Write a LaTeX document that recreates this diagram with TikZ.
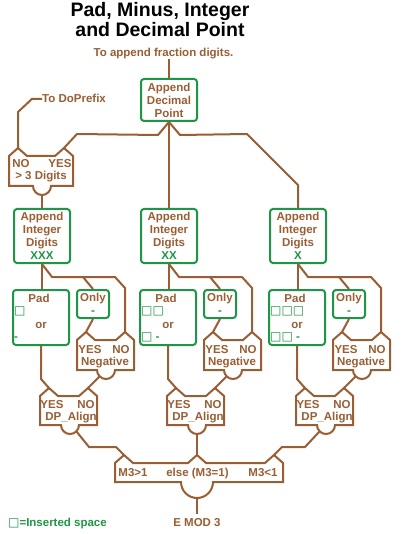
\documentclass[tikz,border=0pt]{standalone}
\usepackage{fontspec}
\setmainfont{Liberation Sans}
\newfontfamily\symfont{DejaVu Sans}
\usetikzlibrary{calc}
\definecolor{brn}{RGB}{153,94,51}
\definecolor{grn}{RGB}{30,150,70}
\newcommand{\txt}{\bfseries\fontsize{11.5}{13}\selectfont}
\newcommand{\sq}{{\symfont\fontsize{12}{13}\selectfont □}}
\newcommand{\decbox}[7]{%
  \draw[dec] (#2,#4) -- ++(9,-8) coordinate (#1-pl) -- ++(9,8) -- ({#3-18},#4) -- ++(9,-8) coordinate (#1-pr) -- (#3,#4) -- (#3,#5) -- ({#6+#7},#5) arc[start angle=0,end angle=180,radius=#7] -- (#2,#5) -- cycle;
  \coordinate (#1-bl) at ($(#6,#5)+(135:#7)$);
  \coordinate (#1-br) at ($(#6,#5)+(45:#7)$);
  \coordinate (#1-b) at ($(#6,#5)+(90:#7)$);
}
\begin{document}
\begin{tikzpicture}[x=1pt,y=-1pt,
  conn/.style={draw=brn,line width=2pt},
  dec/.style={draw=brn,line width=2pt,fill=white},
  gbox/.style={draw=grn,line width=2pt,rounded corners=3pt,fill=white,inner sep=0pt,align=center,text=brn,font=\txt},
  lbl/.style={text=brn,font=\txt,inner sep=0pt,anchor=base},
  ttl/.style={anchor=base,font=\bfseries\fontsize{19.5}{21}\selectfont,inner sep=0pt}]
\useasboundingbox (0,0) rectangle (400,534);
\fill[white] (0,0) rectangle (400,534);

% title
\node[ttl] (t1) at (160,16.5) {Pad, Minus, Integer};
\node[ttl] (t2) at (160,36.5) {and Decimal Point};
\node[lbl] (sub) at (163.5,56.5) {To append fraction digits.};

% top box
\node[gbox,minimum width=56pt,minimum height=42pt] (app) at (169,100) {Append\\Decimal\\Point};
\draw[conn] (app.north) -- (app.north |- sub.south);

% > 3 Digits
\decbox{dig}{9}{73}{156}{186}{42}{9}
\node[lbl] (dig-no) at (21,168) {NO};
\node[lbl] (dig-yes) at (60,168) {YES};
\node[lbl] (dig-t) at (41,180) {> 3 Digits};
\node[lbl,anchor=base west] (prefix) at (42,103) {To DoPrefix};
\draw[conn] (prefix.west) -- ++(-10,0) -- ($(dig-pl)+(0,-36)$) -- (dig-pl);

% columns
\foreach \d/\n/\xs/\pa/\pb in {0/1/XXX/{\sq}/{-}, 127/2/XX/{\sq\sq}/{\sq\ -}, 256/3/X/{\sq\sq\sq}/{\sq\sq\ -}} {
  \node[gbox,minimum width=56pt,minimum height=54pt] (ai\n) at (42+\d,236) {Append\\Integer\\Digits\\\textcolor{grn}{\xs}};
  \node[gbox,minimum width=56pt,minimum height=55pt] (pad\n) at (41+\d,317.5) {};
  \node[lbl] (padt\n) at (39+\d,302) {Pad};
  \node[lbl,anchor=base west,text=grn] (pada\n) at (14+\d,314.5) {\pa};
  \node[lbl] (pador\n) at (41+\d,328) {or};
  \node[lbl,anchor=base west,text=grn] (padb\n) at (14+\d,340) {\pb};
  \node[gbox,minimum width=32pt,minimum height=28pt] (only\n) at (93+\d,304) {Only\\\textcolor{grn}{-}};
  \decbox{neg\n}{77+\d}{134+\d}{340}{370}{106+\d}{9}
  \node[lbl] (negy\n) at (90+\d,353) {YES};
  \node[lbl] (negn\n) at (121+\d,353) {NO};
  \node[lbl] (negt\n) at (105+\d,365) {Negative};
  \decbox{dp\n}{40+\d}{97+\d}{396}{425}{70+\d}{9}
  \node[lbl] (dpy\n) at (52+\d,408) {YES};
  \node[lbl] (dpn\n) at (86+\d,408) {NO};
  \node[lbl] (dpt\n) at (71+\d,420) {DP\_Align};
  \draw[conn] (ai\n.south) -- (ai\n.south |- pad\n.north);
  \draw[conn] (ai\n.south) -- ++(10,13) -- ++(63,0) -- ++(10,11) -- (neg\n-pr);
  \draw[conn] ($(ai\n.south)+(41,13)$) -- (only\n.north);
  \draw[conn] (only\n.south) -- (neg\n-pl);
  \draw[conn] (pad\n.south) -- ++(0,33) -- (dp\n-pl);
  \draw[conn] (neg\n-bl) -- (dp\n-pr);
}

% top connectors
\draw[conn] (app.south) -- ++(-11,13) -- (77,134) -- (dig-pr);
\draw[conn] (app.south) -- (ai2.north);
\draw[conn] (app.south) -- ++(11,13) -- (247,134) -- ($(ai3.north)+(0,-23)$) -- (ai3.north);
\draw[conn] (dig-b) -- (ai1.north);

% M3 box
\draw[dec] (115,463) -- ++(9,-8) coordinate (m3-pl) -- ++(9,8) -- (188,463) -- ++(9,-8) coordinate (m3-pm) -- ++(9,8) -- (265,463) -- ++(9,-8) coordinate (m3-pr) -- (283,463) -- (283,482) -- (213,482) arc[start angle=0,end angle=180,radius=16] -- (115,482) -- cycle;
\coordinate (m3-b) at (197,498);
\node[lbl] (m3a) at (133,476) {M3>1};
\node[lbl] (m3c) at (197.5,476) {else (M3=1)};
\node[lbl] (m3d) at (263,476) {M3<1};

\draw[conn] (dp1-br) -- (89,447) -- (116,447) -- (m3-pl);
\draw[conn] (dp2-b) -- (m3-pm);
\draw[conn] (dp3-bl) -- (305,447) -- (282,447) -- (m3-pr);

\node[lbl] (emod) at (197,526.5) {E MOD 3};
\draw[conn,shorten >=4pt] (m3-b) -- (emod.north);

\node[lbl,anchor=base west,text=grn] (legend) at (8,526) {\sq=Inserted space};
\end{tikzpicture}
\end{document}
